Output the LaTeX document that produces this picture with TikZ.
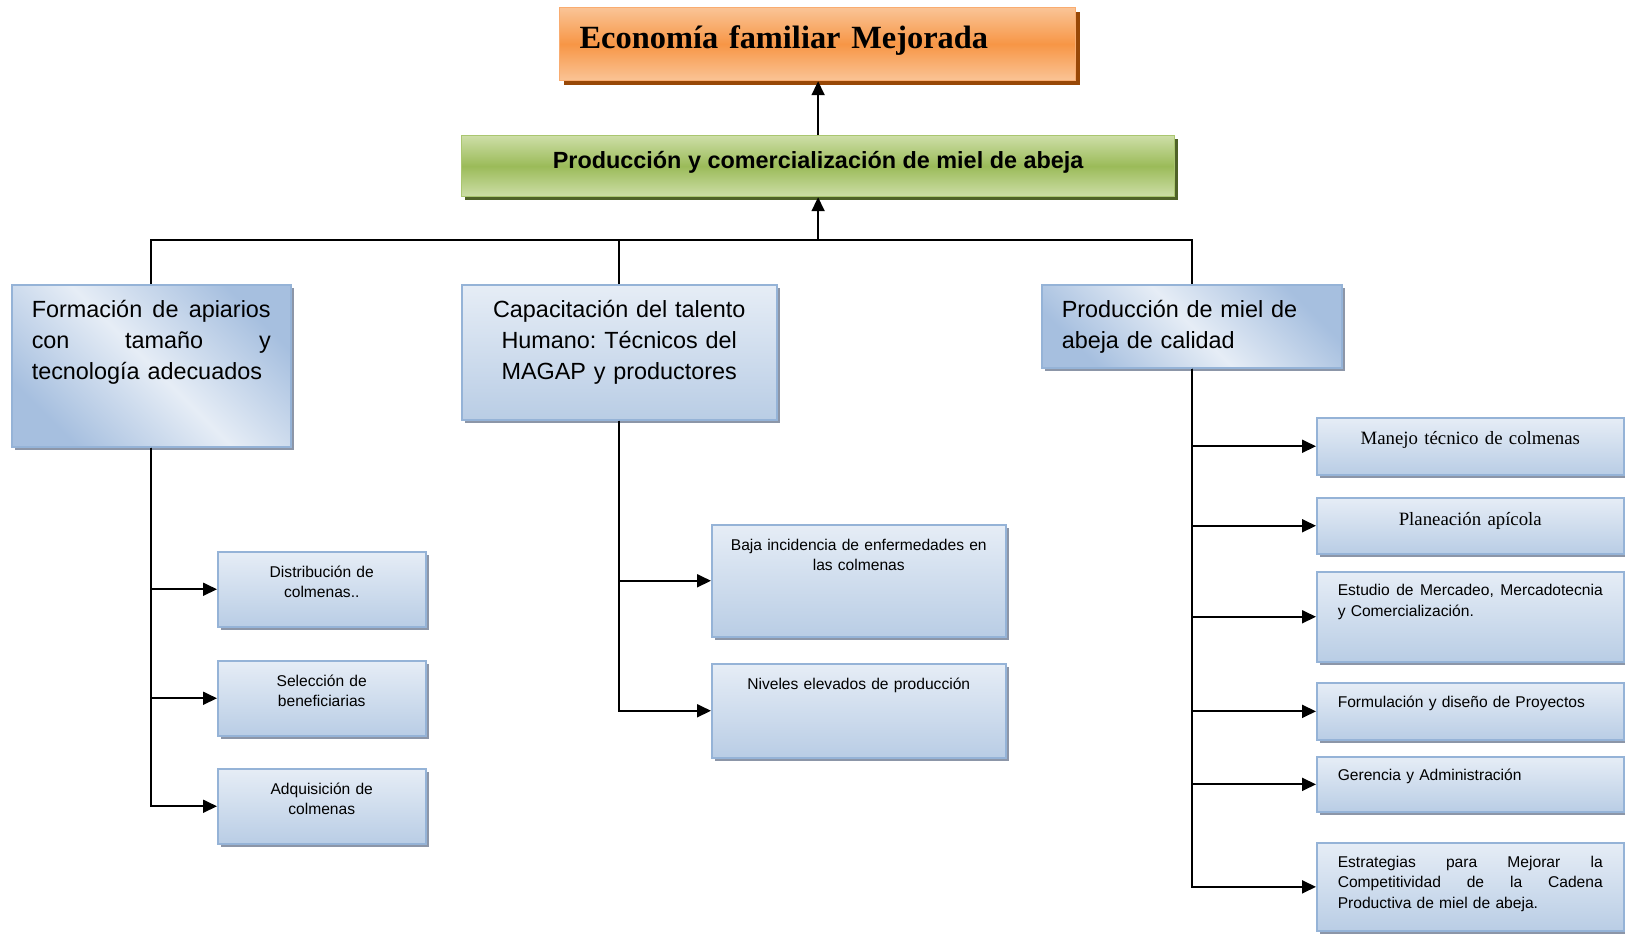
\documentclass[tikz,border=0pt]{standalone}
\usepackage{fontspec}
\setmainfont{Liberation Serif}
\setsansfont{Liberation Sans}
\usetikzlibrary{arrows.meta,positioning,shadows}
\frenchspacing
\definecolor{naranjaclaro}{RGB}{250,196,150}
\definecolor{naranja}{RGB}{247,150,70}
\definecolor{naranjaborde}{RGB}{249,172,112}
\definecolor{naranjasombra}{RGB}{152,72,7}
\definecolor{verdeclaro}{RGB}{205,222,167}
\definecolor{verde}{RGB}{155,187,89}
\definecolor{verdeborde}{RGB}{170,198,112}
\definecolor{verdesombra}{RGB}{79,98,40}
\definecolor{azulborde}{RGB}{149,179,215}
\definecolor{azulclaro}{RGB}{230,237,246}
\definecolor{azul}{RGB}{185,205,229}
\definecolor{azulfuerte}{RGB}{166,191,223}
\definecolor{sombragris}{RGB}{140,150,168}
\tikzset{
  caja/.style={draw=azulborde, line width=0.75pt, anchor=north west, inner xsep=10pt, inner ysep=0pt,
    general shadow={fill=sombragris, shadow xshift=1.5pt, shadow yshift=-1.5pt}},
  cajachica/.style={caja, top color=azulclaro, bottom color=azul,
    font=\sffamily\fontsize{7.8}{10.3}\selectfont},
  cajagrande/.style={caja, top color=azulfuerte, bottom color=azulfuerte, middle color=azulclaro,
    shading angle=-45, text height=16.6pt, font=\sffamily\fontsize{11.7}{15.3}\selectfont},
  cajamedia/.style={cajachica, text height=16.6pt, font=\sffamily\fontsize{11.7}{15.3}\selectfont},
  cajaserif/.style={cajachica, font=\rmfamily\fontsize{9.4}{11}\selectfont},
  cajanaranja/.style={draw=naranjaborde, line width=0.6pt, anchor=north west,
    top color=naranjaclaro, bottom color=naranjaclaro, middle color=naranja,
    general shadow={fill=naranjasombra, shadow xshift=2pt, shadow yshift=-2pt},
    inner xsep=10pt, inner ysep=0pt, text width=238pt, align=left,
    text height=20.3pt, text depth=16.2pt, font=\rmfamily\bfseries\fontsize{16.2}{19}\selectfont},
  cajaverde/.style={draw=verdeborde, line width=0.6pt, anchor=north west,
    top color=verdeclaro, bottom color=verdeclaro, middle color=verde,
    general shadow={fill=verdesombra, shadow xshift=1.5pt, shadow yshift=-1.5pt},
    minimum width=356.5pt, inner ysep=0pt, text height=16.3pt, text depth=14.2pt,
    font=\sffamily\bfseries\fontsize{11.7}{14}\selectfont},
  linea/.style={line width=0.9pt},
  flecha/.style={linea, -{Triangle[length=7pt,width=6.5pt]}}
}
\begin{document}
\begin{tikzpicture}[x=0.5pt, y=-0.5pt]
\useasboundingbox (0,0) rectangle (1625,933);
\node[cajanaranja] (eco) at (559,7) {Economía familiar Mejorada};
\node[cajaverde] (prod) at (461,135) {Producción y comercialización de miel de abeja};
\node[cajagrande, text width=119.5pt, align=left, text depth=64.4pt] (form) at (11,284)
  {Formación\hfill de\hfill apiarios\\con\hfill tamaño\hfill y\\tecnología adecuados};
\node[cajamedia, text width=137.5pt, align=center, text depth=50.9pt] (cap) at (461,284)
  {Capacitación del talento\\Humano: Técnicos del\\MAGAP y productores};
\node[cajagrande, text width=130pt, align=left, text depth=24.9pt] (miel) at (1041,284)
  {Producción de miel de\\abeja de calidad};
\node[cajachica, text width=94pt, inner xsep=5pt, align=center, text height=12.75pt, text depth=24.75pt] (dist) at (217,551) {Distribución de\\colmenas..};
\node[cajachica, text width=94pt, inner xsep=5pt, align=center, text height=12.75pt, text depth=24.75pt] (sel) at (217,660) {Selección de\\beneficiarias};
\node[cajachica, text width=94pt, inner xsep=5pt, align=center, text height=12.75pt, text depth=24.75pt] (adq) at (217,768) {Adquisición de\\colmenas};
\node[cajachica, text width=133pt, inner xsep=7pt, align=center, text height=12.75pt, text depth=43.25pt] (baja) at (711,524) {Baja incidencia de enfermedades en\\las colmenas};
\node[cajachica, text width=133pt, inner xsep=7pt, align=center, text height=12.75pt, text depth=34.25pt] (niv) at (711,663) {Niveles elevados de producción};
\node[cajaserif, text width=132.5pt, inner xsep=10.5pt, align=center, text height=13.5pt, text depth=15pt] (man) at (1316,417) {Manejo técnico de colmenas};
\node[cajaserif, text width=132.5pt, inner xsep=10.5pt, align=center, text height=13.8pt, text depth=14.2pt] (plan) at (1316,497) {Planeación apícola};
\node[cajachica, text width=132.5pt, inner xsep=10.5pt, align=left, text height=12.1pt, text depth=32.9pt] (est) at (1316,571) {Estudio\hfill de\hfill Mercadeo,\hfill Mercadotecnia\\y Comercialización.};
\node[cajachica, text width=132.5pt, inner xsep=10.5pt, align=left, text height=12.6pt, text depth=16pt] (formu) at (1316,682) {Formulación y diseño de Proyectos};
\node[cajachica, text width=132.5pt, inner xsep=10.5pt, align=left, text height=11.8pt, text depth=15.8pt] (ger) at (1316,756) {Gerencia y Administración};
\node[cajachica, text width=132.5pt, inner xsep=10.5pt, align=left, text height=12.3pt, text depth=31.8pt] (estr) at (1316,842) {Estrategias\hfill para\hfill Mejorar\hfill la\\Competitividad\hfill de\hfill la\hfill Cadena\\Productiva de miel de abeja.};
\path (prod.south) ++(0,43) coordinate (union);
\draw[flecha] (prod.north) -- (prod.north |- eco.south);
\draw[flecha] (union) -- (prod.south);
\draw[linea] (form.north) |- (union) -| (miel.north);
\draw[linea] (cap.north) -- (cap.north |- union);
\foreach \hijo in {dist,sel,adq} \draw[flecha] (form.south) |- (\hijo.west);
\foreach \hijo in {baja,niv} \draw[flecha] (cap.south) |- (\hijo.west);
\foreach \hijo in {man,plan,est,formu,ger,estr} \draw[flecha] (miel.south) |- (\hijo.west);
\end{tikzpicture}
\end{document}
